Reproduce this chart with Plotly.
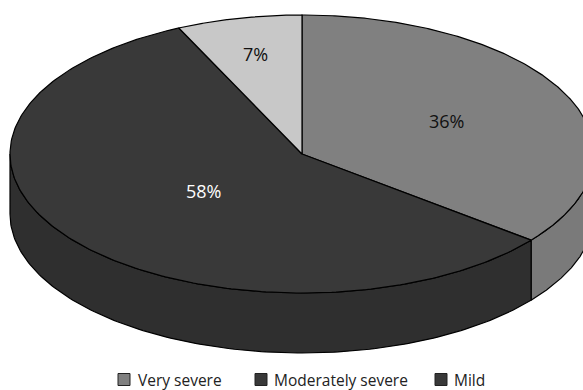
import numpy as np
import plotly.graph_objects as go

# Severity distribution
categories = ["Very severe", "Moderately severe", "Mild"]
percentages = [36, 58, 7]
label_text = ["36%", "58%", "7%"]

# Styling
top_colors = ["#808080", "#393939", "#c8c8c8"]
side_colors = ["#7a7a7a", "#2f2f2f", "#b4b4b4"]
legend_colors = ["#808080", "#393939", "#393939"]
label_colors = ["#111111", "#ffffff", "#111111"]
label_radius = [0.55, 0.43, 0.74]
FONT = "Open Sans"

# Canvas (axis units == pixels) and pie geometry
W, H = 583, 390
CX, CY = 302, 154
RX, RY = 292, 139
DEPTH = 60


def rim(theta_deg, drop=0.0):
    """Point on the tilted pie rim, angle measured clockwise from 12 o'clock."""
    t = np.radians(theta_deg)
    return CX + RX * np.sin(t), CY - RY * np.cos(t) + drop


vals = np.array(percentages, dtype=float)
edges = np.concatenate([[0.0], np.cumsum(vals) / vals.sum() * 360.0])

fig = go.Figure()

# Visible outer wall (front half of the cylinder) for each slice
for i in range(len(categories)):
    lo = max(edges[i], 90.0)
    hi = min(edges[i + 1], 270.0)
    if hi <= lo:
        continue
    th = np.linspace(lo, hi, 160)
    xt, yt = rim(th)
    xb, yb = rim(th[::-1], DEPTH)
    x = np.concatenate([xt, xb, xt[:1]])
    y = np.concatenate([yt, yb, yt[:1]])
    fig.add_trace(go.Scatter(
        x=x, y=y, mode="lines", fill="toself",
        fillcolor=side_colors[i],
        line=dict(color="#000000", width=1.2),
        hoverinfo="skip", showlegend=False,
    ))

# Top faces of the slices
for i in range(len(categories)):
    th = np.linspace(edges[i], edges[i + 1], 240)
    xa, ya = rim(th)
    x = np.concatenate([[CX], xa, [CX]])
    y = np.concatenate([[CY], ya, [CY]])
    fig.add_trace(go.Scatter(
        x=x, y=y, mode="lines", fill="toself",
        fillcolor=top_colors[i],
        line=dict(color="#000000", width=1.2),
        name=categories[i], hoverinfo="skip", showlegend=False,
    ))

# Percentage labels at each slice's mid-angle
annotations = []
for i in range(len(categories)):
    mid = 0.5 * (edges[i] + edges[i + 1])
    t = np.radians(mid)
    lx = CX + RX * label_radius[i] * np.sin(t)
    ly = CY - RY * label_radius[i] * np.cos(t)
    annotations.append(dict(
        x=lx, y=ly, xref="x", yref="y", text=label_text[i],
        showarrow=False, xanchor="center", yanchor="middle",
        font=dict(family=FONT, size=18, color=label_colors[i]),
    ))

# Legend row along the bottom
legend_box_x = [118, 255, 435]
legend_text_x = [137, 273, 453]
LEG_Y, BOX = 379.5, 12
shapes = []
for i in range(len(categories)):
    shapes.append(dict(
        type="rect", xref="x", yref="y",
        x0=legend_box_x[i], x1=legend_box_x[i] + BOX,
        y0=LEG_Y - BOX / 2, y1=LEG_Y + BOX / 2,
        fillcolor=legend_colors[i], line=dict(color="#222222", width=1),
    ))
    annotations.append(dict(
        x=legend_text_x[i], y=LEG_Y, xref="x", yref="y", text=categories[i],
        showarrow=False, xanchor="left", yanchor="middle", borderpad=0,
        font=dict(family=FONT, size=15.5, color="#222222"),
    ))

fig.update_layout(
    width=W, height=H,
    margin=dict(l=0, r=0, t=0, b=0),
    paper_bgcolor="white", plot_bgcolor="white",
    xaxis=dict(range=[0, W], visible=False, fixedrange=True),
    yaxis=dict(range=[H, 0], visible=False, fixedrange=True),
    annotations=annotations,
    shapes=shapes,
    showlegend=False,
)

fig.write_html("out.html")
